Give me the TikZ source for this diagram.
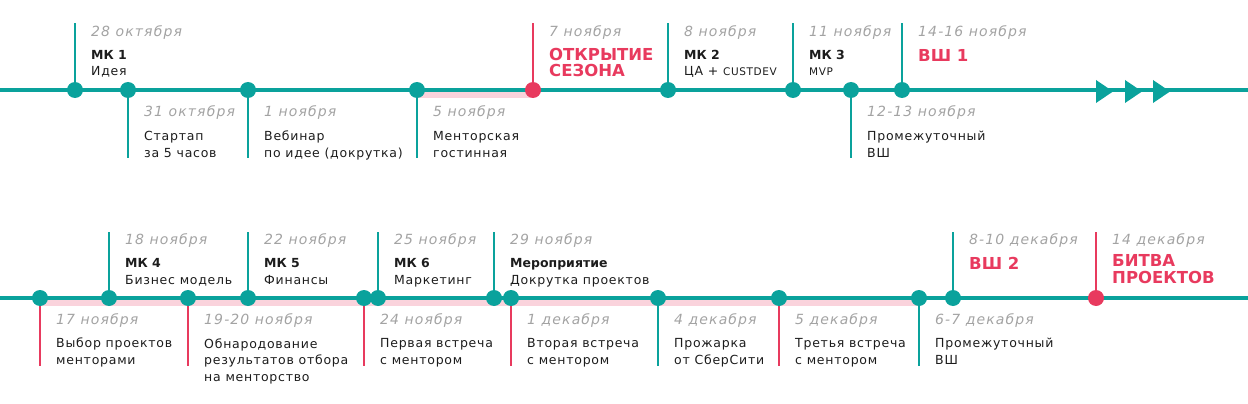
\documentclass[tikz,border=0pt]{standalone}
\usepackage{fontspec}
\setmainfont{DejaVu Sans}[LetterSpace=6,BoldFont={DejaVu Sans Bold},BoldFeatures={LetterSpace=0}]
\newfontfamily\datefont{DejaVu Sans Oblique}[LetterSpace=8]
\usetikzlibrary{backgrounds}
\definecolor{tealline}{HTML}{0AA29C}
\definecolor{hotred}{HTML}{E83A5E}
\definecolor{pinkbar}{HTML}{FAD3DC}
\definecolor{dategray}{HTML}{A3A3A3}
\definecolor{ink}{HTML}{1C1C1C}
\tikzset{
  dot/.style={circle,fill=tealline,inner sep=0pt,minimum size=16pt},
  reddot/.style={dot,fill=hotred},
  axis/.style={tealline,line width=4pt},
  band/.style={fill=pinkbar},
  tick/.style={tealline,line width=1.3pt},
  redtick/.style={hotred,line width=1.3pt},
  date/.style={anchor=base west,inner sep=0pt,text=dategray,font=\fontsize{14}{16}\datefont},
  info/.style={anchor=base west,inner sep=0pt,align=left,text=ink,font=\fontsize{12.5}{16.5}\selectfont},
  big/.style={anchor=base west,inner sep=0pt,align=left,text=hotred,font=\fontsize{16.5}{17}\selectfont\bfseries},
}
\begin{document}
\begin{tikzpicture}[x=1pt,y=-1pt]
\useasboundingbox (0,0) rectangle (1248,404);
% dots, top row
\foreach \n/\x in {t1/75,t2/128,t3/248,t4/417,t6/668,t7/793,t8/851,t9/902}
  \node[dot] (\n) at (\x,90) {};
\node[reddot] (t5) at (533,90) {};
% dots, bottom row
\foreach \n/\x in {b1/40,b2/109,b3/188,b4/248,b5/364,b6/378,b7/494,b8/511,b9/658,b10/779,b11/919,b12/953}
  \node[dot] (\n) at (\x,298) {};
\node[reddot] (b13) at (1096,298) {};
\coordinate (ts) at (0,90);
\coordinate (te) at (1248,90);
\coordinate (bs) at (0,298);
\coordinate (be) at (1248,298);
\foreach \n in {t1,t5,t6,t7,t9} \coordinate (\n-end) at (\n |- 0,23);
\foreach \n in {t2,t3,t4,t8} \coordinate (\n-end) at (\n |- 0,158);
\foreach \n in {b2,b4,b6,b7,b12,b13} \coordinate (\n-end) at (\n |- 0,232);
\foreach \n in {b1,b3,b5,b8,b9,b10,b11} \coordinate (\n-end) at (\n |- 0,366);
\begin{scope}[on background layer]
  \fill[band] ([yshift=-2pt]t4.center) rectangle ([yshift=-8pt]t5.center);
  \fill[band] ([yshift=-2pt]b1.center) rectangle ([yshift=-8pt]b11.center);
  \draw[axis] (ts) -- (te);
  \draw[axis] (bs) -- (be);
  \foreach \x in {1096,1125,1153}
    \fill[tealline] (\x,80) -- ++(17,11.5) -- ++(-17,11.5) -- cycle;
  \foreach \n in {t1,t2,t3,t4,t6,t7,t8,t9,b2,b4,b6,b7,b9,b11,b12}
    \draw[tick] (\n) -- (\n-end);
  \foreach \n in {t5,b1,b3,b5,b8,b10,b13}
    \draw[redtick] (\n) -- (\n-end);
\end{scope}
% labels, top row (a label's base is its last line)
\node[date] (t1-date) at (91,37) {28 октября};
\node[info] (t1-text) at (91,76) {\textbf{МК 1}\\Идея};
\node[date] (t2-date) at (144,117) {31 октября};
\node[info] (t2-text) at (144,157) {Стартап\\за 5 часов};
\node[date] (t3-date) at (264,117) {1 ноября};
\node[info] (t3-text) at (264,157) {Вебинар\\по идее (докрутка)};
\node[date] (t4-date) at (433,117) {5 ноября};
\node[info] (t4-text) at (433,157) {Менторская\\гостинная};
\node[date] (t5-date) at (549,37) {7 ноября};
\node[big] (t5-text) at (549,77) {ОТКРЫТИЕ\\СЕЗОНА};
\node[date] (t6-date) at (684,37) {8 ноября};
\node[info] (t6-text) at (684,76) {\textbf{МК 2}\\ЦА + {\fontsize{10.5}{12}\selectfont CUSTDEV}};
\node[date] (t7-date) at (809,37) {11 ноября};
\node[info] (t7-text) at (809,76) {\textbf{МК 3}\\{\fontsize{10.5}{12}\selectfont MVP}};
\node[date] (t8-date) at (867,117) {12-13 ноября};
\node[info] (t8-text) at (867,157) {Промежуточный\\ВШ};
\node[date] (t9-date) at (918,37) {14-16 ноября};
\node[big] (t9-text) at (918,62) {ВШ 1};
% labels, bottom row
\node[date] (b1-date) at (56,324) {17 ноября};
\node[info] (b1-text) at (56,364) {Выбор проектов\\менторами};
\node[date] (b2-date) at (125,244) {18 ноября};
\node[info] (b2-text) at (125,284) {\textbf{МК 4}\\Бизнес модель};
\node[date] (b3-date) at (204,324) {19-20 ноября};
\node[info] (b3-text) at (204,381) {Обнародование\\результатов отбора\\на менторство};
\node[date] (b4-date) at (264,244) {22 ноября};
\node[info] (b4-text) at (264,284) {\textbf{МК 5}\\Финансы};
\node[date] (b5-date) at (380,324) {24 ноября};
\node[info] (b5-text) at (380,364) {Первая встреча\\с ментором};
\node[date] (b6-date) at (394,244) {25 ноября};
\node[info] (b6-text) at (394,284) {\textbf{МК 6}\\Маркетинг};
\node[date] (b7-date) at (510,244) {29 ноября};
\node[info] (b7-text) at (510,284) {\textbf{Мероприятие}\\Докрутка проектов};
\node[date] (b8-date) at (527,324) {1 декабря};
\node[info] (b8-text) at (527,364) {Вторая встреча\\с ментором};
\node[date] (b9-date) at (674,324) {4 декабря};
\node[info] (b9-text) at (674,364) {Прожарка\\от СберСити};
\node[date] (b10-date) at (795,324) {5 декабря};
\node[info] (b10-text) at (795,364) {Третья встреча\\с ментором};
\node[date] (b11-date) at (935,324) {6-7 декабря};
\node[info] (b11-text) at (935,364) {Промежуточный\\ВШ};
\node[date] (b12-date) at (969,244) {8-10 декабря};
\node[big] (b12-text) at (969,269) {ВШ 2};
\node[date] (b13-date) at (1112,244) {14 декабря};
\node[big] (b13-text) at (1112,283) {БИТВА\\ПРОЕКТОВ};
\end{tikzpicture}
\end{document}
